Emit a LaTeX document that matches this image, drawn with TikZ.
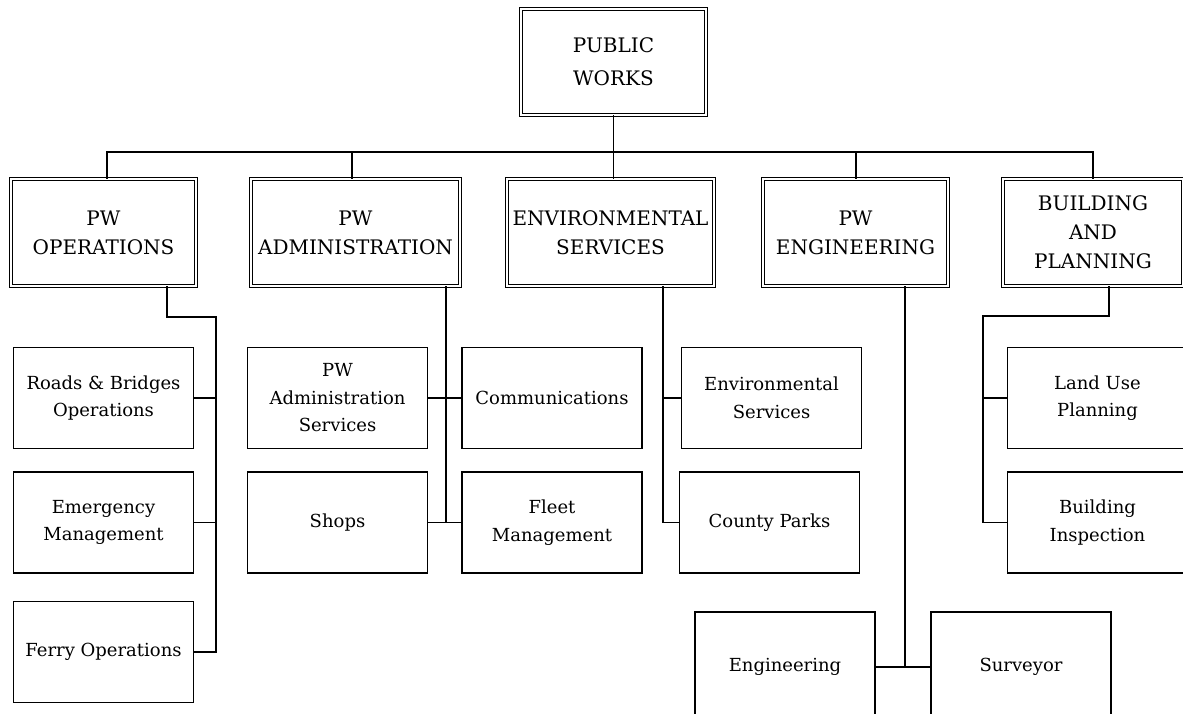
\documentclass[tikz,border=0pt]{standalone}
\usepackage{fontspec}
\setmainfont{DejaVu Serif}
\newcommand{\capfont}{\fontsize{20}{29}\selectfont}
\newcommand{\subfont}{\fontsize{18}{27.5}\selectfont}

\begin{document}
\begin{tikzpicture}[x=1pt,y=-1pt,
    head/.style={draw, double, double distance=2pt, line width=0.9pt, inner sep=0pt,
      align=center, font=\capfont, minimum height=107pt},
    unit/.style={draw, line width=1.1pt, inner sep=0pt, align=center, font=\subfont,
      minimum width=180pt, minimum height=101pt},
    link/.style={line width=1.1pt}]
  \useasboundingbox (0,0) rectangle (1183,713);
  \clip (0,0) rectangle (1183,713);
  % top
  \node[head, minimum width=185pt, minimum height=106pt] (pw) at (613.5,62) {PUBLIC\\[4pt]WORKS};
  % departments
  \node[head, minimum width=185pt] (ops) at (103.5,232.5) {PW\\OPERATIONS};
  \node[head, minimum width=209pt] (adm) at (355.5,232.5) {PW\\ADMINISTRATION};
  \node[head, minimum width=207pt] (env) at (610.5,232.5) {ENVIRONMENTAL\\SERVICES};
  \node[head, minimum width=185pt] (eng) at (855.5,232.5) {PW\\ENGINEERING};
  \node[head, minimum width=180pt] (bld) at (1093,232.5) {BUILDING\\AND\\PLANNING};
  % units
  \node[unit] (roads) at (103.5,398) {Roads \& Bridges\\Operations};
  \node[unit] (emerg) at (103.5,522.5) {Emergency\\Management};
  \node[unit] (ferry) at (103.5,652) {Ferry Operations};
  \node[unit] (admsvc) at (337.5,398) {PW\\Administration\\Services};
  \node[unit] (comm) at (552,398) {Communications};
  \node[unit] (shops) at (337.5,522.5) {Shops};
  \node[unit] (fleet) at (552,522.5) {Fleet\\Management};
  \node[unit] (envsvc) at (771.5,398) {Environmental\\Services};
  \node[unit] (parks) at (769.5,522.5) {County Parks};
  \node[unit] (landuse) at (1097.5,398) {Land Use\\Planning};
  \node[unit] (insp) at (1097.5,522.5) {Building\\Inspection};
  \node[unit, minimum height=110pt] (engr) at (785,667) {Engineering};
  \node[unit, minimum height=110pt] (surv) at (1021,667) {Surveyor};

  % top level links
  \coordinate (bus) at (613.5,152);
  \coordinate (dops) at (107,152);
  \coordinate (dadm) at (352,152);
  \coordinate (denv) at (613.5,152);
  \coordinate (deng) at (856,152);
  \coordinate (dbld) at (1093,152);
  \draw[link] (pw.south) -- (bus);
  \draw[link] (dops |- ops.north) -- (dops) -- (dbld) -- (dbld |- bld.north);
  \draw[link] (dadm) -- (dadm |- adm.north);
  \draw[link] (denv) -- (denv |- env.north);
  \draw[link] (deng) -- (deng |- eng.north);

  % operations
  \coordinate (opsk) at (167,317);
  \coordinate (opst) at (216,317);
  \draw[link] (opsk |- ops.south) -- (opsk) -- (opst) |- (ferry.east);
  \draw[link] (roads.east) -- (roads.east -| opst);
  \draw[link] (emerg.east) -- (emerg.east -| opst);

  % administration
  \coordinate (admt) at (446,0);
  \draw[link] (admt |- adm.south) -- (admt |- shops.east);
  \draw[link] (admsvc.east) -- (comm.west);
  \draw[link] (shops.east) -- (fleet.west);

  % environmental services
  \coordinate (envt) at (663,0);
  \draw[link] (envt |- env.south) |- (parks.west);
  \draw[link] (envsvc.west) -- (envsvc.west -| envt);

  % engineering
  \coordinate (engt) at (905,0);
  \draw[link] (engt |- eng.south) -- (engt |- engr.east);
  \draw[link] (engr.east) -- (surv.west);

  % building and planning
  \coordinate (bldk) at (1109,316);
  \coordinate (bldt) at (983,316);
  \draw[link] (bldk |- bld.south) -- (bldk) -- (bldt) |- (insp.west);
  \draw[link] (landuse.west) -- (landuse.west -| bldt);
\end{tikzpicture}
\end{document}
